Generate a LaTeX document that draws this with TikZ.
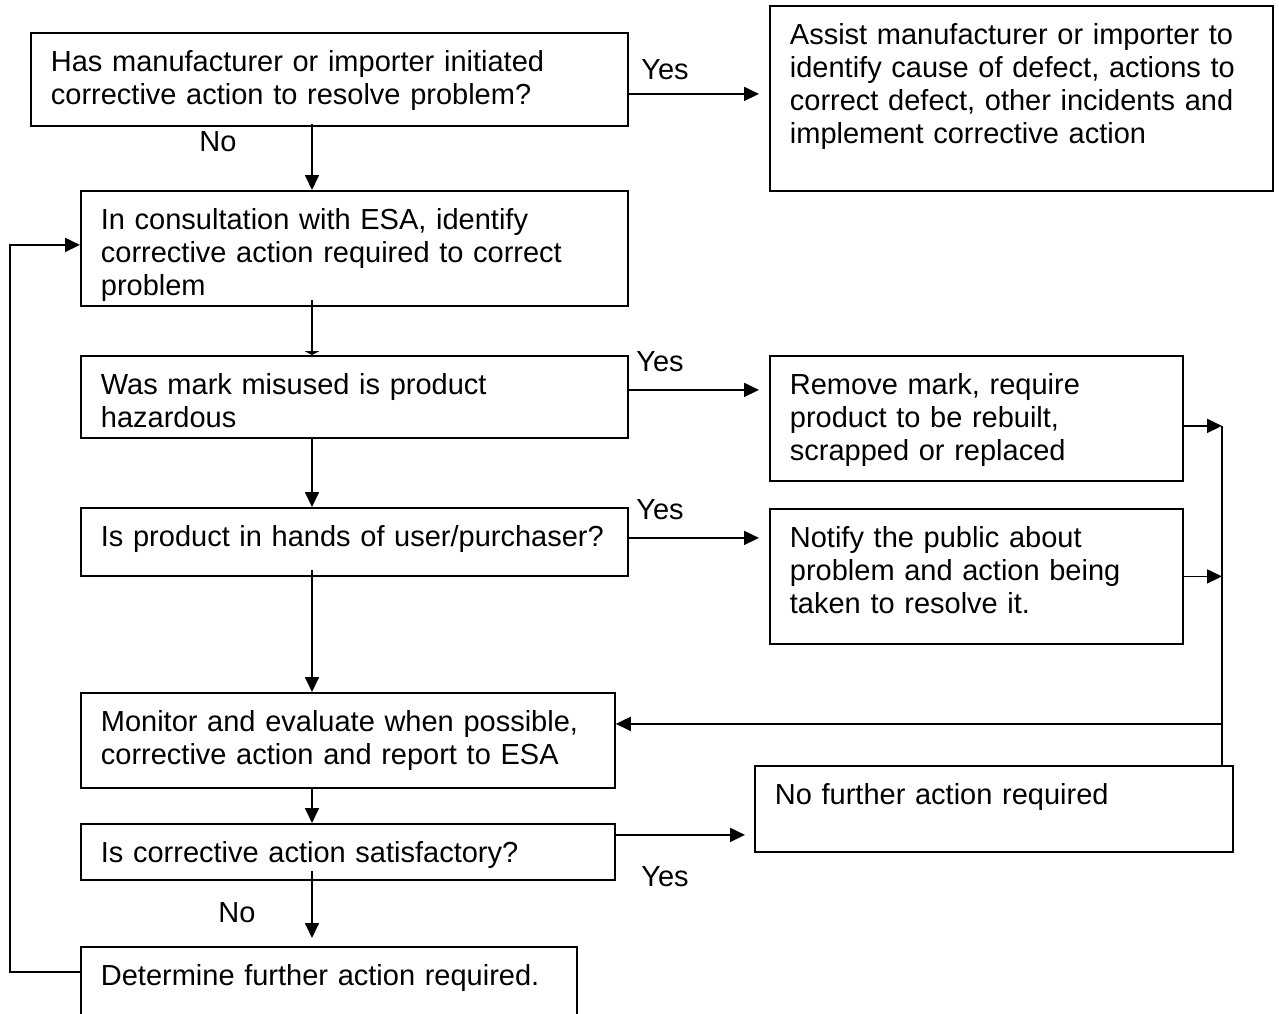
\documentclass[tikz,border=0pt]{standalone}
\usepackage{fontspec}
\setmainfont{Liberation Sans}
\usetikzlibrary{arrows.meta,positioning}

\begin{document}
\begin{tikzpicture}[
  x=1pt, y=-1pt,
  box/.style={rectangle, draw=black, line width=1.8pt, anchor=north west,
              align=left, inner xsep=20pt, inner ysep=0pt, text height=39pt,
              font=\fontsize{29}{33}\selectfont},
  arr/.style={-{Triangle[length=15pt,width=14pt]}, line width=1.8pt},
  stub/.style={-{Triangle[length=4pt,width=15pt]}, line width=1.8pt},
  lbl/.style={font=\fontsize{29}{33}\selectfont, inner sep=0pt}
]
\clip (0,0) rectangle (1279,1013);

% main column
\node[box, text width=557pt, text depth=54pt] (initiated) at (30,32)
  {Has manufacturer or importer initiated\\corrective action to resolve problem?};
\node[box, text width=507pt, text depth=76pt] (consult) at (80,190)
  {In consultation with ESA, identify\\corrective action required to correct\\problem};
\node[box, text width=507pt, text depth=43pt] (misused) at (80,355)
  {Was mark misused is product\\hazardous};
\node[box, text width=507pt, text depth=29pt] (inhands) at (80,507)
  {\mbox{Is product in hands of user/purchaser?}};
\node[box, text width=494pt, text depth=56pt] (monitor) at (80,692)
  {Monitor and evaluate when possible,\\corrective action and report to ESA};
\node[box, text width=494pt, text depth=17pt] (satisfied) at (80,823)
  {Is corrective action satisfactory?};
\node[box, text width=456pt, text depth=110pt] (further) at (80,946)
  {Determine further action required.};

% right column
\node[box, text width=463pt, text depth=146pt] (assist) at (769,5)
  {Assist manufacturer or importer to\\identify cause of defect, actions to\\correct defect, other incidents and\\implement corrective action};
\node[box, text width=373pt, text depth=86pt] (remove) at (769,355)
  {Remove mark, require\\product to be rebuilt,\\scrapped or replaced};
\node[box, text width=373pt, text depth=96pt] (notify) at (769,508)
  {Notify the public about\\problem and action being\\taken to resolve it.};
\node[box, text width=438pt, text depth=47pt] (noaction) at (754,765)
  {No further action required};

\coordinate (spine) at (312,0);
\coordinate (rail) at (1222,0);
\coordinate (loop) at (10,0);

% labels
\node[lbl] (yes1) at (665,70) {Yes};
\node[lbl] (yes2) at (660,362) {Yes};
\node[lbl] (yes3) at (660,510) {Yes};
\node[lbl] (yes4) at (665,877) {Yes};
\node[lbl] (no1) at (218,142) {No};
\node[lbl] (no2) at (237,913) {No};

% down the column
\draw[arr] ([yshift=3pt]initiated.south -| spine) -- (consult.north -| spine);
\draw[stub] ([yshift=7pt]consult.south -| spine) -- (misused.north -| spine);
\draw[arr] (misused.south -| spine) -- (inhands.north -| spine);
\draw[arr] ([yshift=7pt]inhands.south -| spine) -- (monitor.north -| spine);
\draw[arr] (monitor.south -| spine) -- (satisfied.north -| spine);
\draw[arr, shorten >=8pt] ([yshift=10pt]satisfied.south -| spine) -- (further.north -| spine);

% yes branches
\draw[arr, shorten >=10pt] ([yshift=-14.5pt]initiated.east) -- ([yshift=-14.5pt]initiated.east -| assist.west);
\draw[arr, shorten >=10pt] ([yshift=7pt]misused.east) -- ([yshift=7pt]misused.east -| remove.west);
\draw[arr, shorten >=10pt] ([yshift=4pt]inhands.east) -- ([yshift=4pt]inhands.east -| notify.west);
\draw[arr, shorten >=9pt] ([yshift=17pt]satisfied.east) -- ([yshift=17pt]satisfied.east -| noaction.west);

% back to monitoring
\draw[arr] ([yshift=-7.5pt]remove.east) -- ([yshift=-7.5pt]remove.east -| rail);
\draw[arr] (notify.east) -- (notify.east -| rail);
\draw[line width=1.8pt] ([yshift=-7.5pt]remove.east -| rail) -- (noaction.north -| rail);
\draw[arr] ([yshift=16.5pt]monitor.east -| rail) -- ([yshift=16.5pt]monitor.east);

% loop back
\draw[arr] ([yshift=-26pt]further.north west) -- ([yshift=-26pt]further.north west -| loop)
  |- ([yshift=3.5pt]consult.west);
\end{tikzpicture}
\end{document}
